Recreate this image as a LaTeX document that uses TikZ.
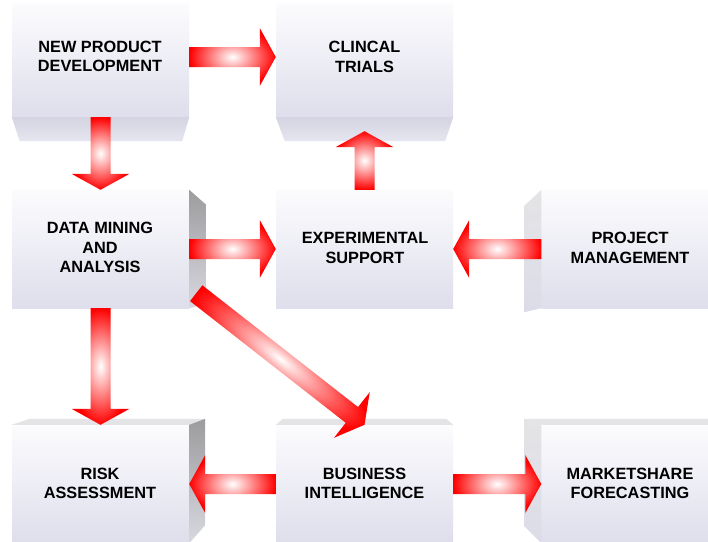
\documentclass[tikz,border=0pt]{standalone}
\usepackage{fontspec}
\setmainfont{Liberation Sans}
\usetikzlibrary{calc}
\definecolor{facetop}{RGB}{252,252,254}
\definecolor{facebot}{RGB}{222,222,236}
\definecolor{beveltop}{RGB}{212,212,226}
\definecolor{bevelbot}{RGB}{230,230,240}
\definecolor{sidedark}{RGB}{156,156,158}
\definecolor{sidelight}{RGB}{216,216,224}
\definecolor{sidepale}{RGB}{228,228,230}
\definecolor{sidepalebot}{RGB}{220,220,232}
\definecolor{arrowred}{RGB}{255,0,0}
\tikzset{
  x=1pt, y=-1pt,
  face/.style={rectangle, minimum width=177pt, inner sep=0pt, draw=none,
    top color=facetop, bottom color=facebot},
  lbl/.style={font=\bfseries\fontsize{16.3}{19.5}\selectfont, align=center,
    text=black, inner sep=0pt},
  bevel/.style={top color=beveltop, bottom color=bevelbot, draw=none},
  darkside/.style={top color=sidedark, bottom color=sidelight, draw=none},
  paleside/.style={top color=sidepale, bottom color=sidepalebot, draw=none},
  topband/.style={fill=sidepale, draw=none},
  fatarrowfill/.style={inner color=white, outer color=arrowred, draw=none},
}
\newcommand\fatarrow[2]{%
  \path let \p1=(#1), \p2=(#2) in \pgfextra{%
    \pgfmathsetmacro\faA{atan2(\y2-\y1,\x2-\x1)}%
    \pgfmathsetmacro\faL{veclen(\x2-\x1,\y2-\y1)}%
    \pgfmathsetmacro\faXX{\x1}%
    \pgfmathsetmacro\faYY{\y1}%
    \xdef\faAng{\faA}\xdef\faLen{\faL}%
    \xdef\faX{\faXX}\xdef\faY{\faYY}};
  \begin{scope}[transform canvas={shift={(\faX pt,\faY pt)},rotate=\faAng}]
    \shade[fatarrowfill] (0,-10) -- ({\faLen-16},-10) -- ({\faLen-16},-29)
      -- (\faLen,0) -- ({\faLen-16},29) -- ({\faLen-16},10) -- (0,10) -- cycle;
  \end{scope}}
\begin{document}
\begin{tikzpicture}
\useasboundingbox[fill=white] (0,0) rectangle (708,541);
% front faces
\node[face, minimum height=114pt] (npd) at (100.5,60) {};
\node[face, minimum height=114pt] (ct) at (364.5,60) {};
\node[face, minimum height=118pt] (dm) at (100.5,249) {};
\node[face, minimum height=118pt] (es) at (364.5,249) {};
\node[face, minimum height=118pt] (pm) at (630,249) {};
\node[face, minimum height=118pt] (risk) at (100.5,484) {};
\node[face, minimum height=118pt] (bi) at (364.5,484) {};
\node[face, minimum height=118pt] (ms) at (630,484) {};
% bevels and sides
\shade[bevel] (npd.south west) -- (npd.south east) -- ([shift={(-7,24)}]npd.south east)
  -- ([shift={(8,24)}]npd.south west) -- cycle;
\shade[bevel] (ct.south west) -- (ct.south east) -- ([shift={(-8,24)}]ct.south east)
  -- ([shift={(9,24)}]ct.south west) -- cycle;
\shade[darkside] (dm.north east) -- ([shift={(17,15)}]dm.north east)
  -- ([shift={(17,-4)}]dm.south east) -- (dm.south east) -- cycle;
\shade[paleside] (pm.north west) -- ([shift={(-17,16)}]pm.north west)
  -- ([shift={(-17,4)}]pm.south west) -- (pm.south west) -- cycle;
\fill[topband] (risk.north west) -- ([shift={(18,-6)}]risk.north west)
  -- ([shift={(16,-6)}]risk.north east) -- (risk.north east) -- cycle;
\shade[darkside] (risk.north east) -- ([shift={(16,-6)}]risk.north east)
  -- ([shift={(16,-18)}]risk.south east) -- (risk.south east) -- cycle;
\fill[topband] (bi.north west) -- ([shift={(7,-6)}]bi.north west)
  -- ([shift={(-7,-6)}]bi.north east) -- (bi.north east) -- cycle;
\fill[topband] ([shift={(-17,-6)}]ms.north west) -- ([shift={(0,-6)}]ms.north east)
  -- (ms.north east) -- (ms.north west) -- cycle;
\shade[paleside] ([shift={(-17,-6)}]ms.north west) -- (ms.north west)
  -- (ms.south west) -- ([shift={(-17,-17)}]ms.south west) -- cycle;
% labels
\node[lbl] (npdt) at (100,56.5) {NEW PRODUCT\\DEVELOPMENT};
\node[lbl] (ctt) at (364.5,57) {CLINCAL\\TRIALS};
\node[lbl] (dmt) at (100,247.5) {DATA MINING\\AND\\ANALYSIS};
\node[lbl] (est) at (365,248) {EXPERIMENTAL\\SUPPORT};
\node[lbl] (pmt) at (630,248) {PROJECT\\MANAGEMENT};
\node[lbl] (riskt) at (100,483.5) {RISK\\ASSESSMENT};
\node[lbl] (bit) at (364.5,483.5) {BUSINESS\\INTELLIGENCE};
\node[lbl] (mst) at (630,483.5) {MARKETSHARE\\FORECASTING};
% arrows
\fatarrow{[yshift=3pt]npd.east}{[yshift=3pt]ct.west}
\fatarrow{npd.south}{dm.north}
\fatarrow{es.north}{[yshift=-14pt]ct.south}
\fatarrow{dm.east}{es.west}
\fatarrow{pm.west}{es.east}
\fatarrow{dm.south}{risk.north}
\fatarrow{[shift={(7pt,15pt)}]dm.south east}{bi.north}
\fatarrow{bi.west}{risk.east}
\fatarrow{bi.east}{ms.west}
\end{tikzpicture}
\end{document}
